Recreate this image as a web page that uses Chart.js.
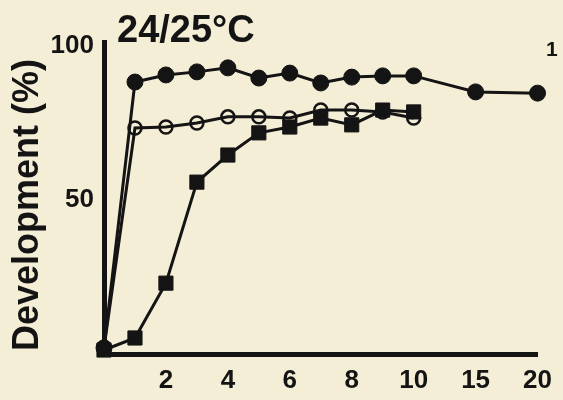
<!DOCTYPE html>
<html><head><meta charset="utf-8">
<script src="https://cdn.jsdelivr.net/npm/chart.js@4/dist/chart.umd.min.js"></script>
<style>html,body{margin:0;padding:0;background:#f5eed6;}#wrap{width:563px;height:400px;}</style>
</head><body><div id="wrap"><canvas id="c" width="563" height="400"></canvas></div>
<script>
const chartTitle = '24/25°C';
const yAxisTitle = 'Development (%)';
const panelLabel = '1';

const daysFilled = [0, 1, 2, 3, 4, 5, 6, 7, 8, 9, 10, 15, 20];
const filledCircles = [2, 88.3, 90.6, 91.6, 92.9, 89.6, 91.2, 88, 89.9, 90.3, 90.3, 85.1, 84.7];

const daysOpen = [0, 1, 2, 3, 4, 5, 6, 7, 8, 9, 10];
const openCircles = [2, 73.4, 73.7, 75, 77, 77, 76.6, 79.2, 79.2, 78.6, 76.6];

const daysSquares = [0, 1, 2, 3, 4, 5, 6, 7, 8, 9, 10];
const squares = [1.3, 5.2, 23, 55.8, 64.6, 71.8, 73.7, 76.6, 74.4, 79.2, 78.6];

const xTickDays = [2, 4, 6, 8, 10, 15, 20];
const yTickValues = [50, 100];

const BG = '#f5eed6';
const INK = '#141414';
const FONT = '"Liberation Sans", Arial, sans-serif';

// broken x axis: days beyond 10 are compressed (5 days take the room of 2)
function axisPos(d) { return d <= 10 ? d : 10 + (d - 10) * 0.4; }
function toPoints(days, vals) { return days.map((d, i) => ({ x: axisPos(d), y: vals[i] })); }

const decor = {
  id: 'decor',
  beforeDraw(chart) {
    const ctx = chart.ctx;
    ctx.save();
    ctx.fillStyle = BG;
    ctx.fillRect(0, 0, chart.width, chart.height);
    ctx.restore();
  },
  afterDraw(chart) {
    const ctx = chart.ctx, a = chart.chartArea;
    ctx.save();
    ctx.fillStyle = INK;
    ctx.textBaseline = 'alphabetic';
    ctx.textAlign = 'left';
    ctx.font = 'bold 38px ' + FONT;
    ctx.fillText(chartTitle, a.left + 13, 42);
    ctx.font = 'bold 21px ' + FONT;
    ctx.textBaseline = 'middle';
    ctx.fillText(panelLabel, 546, 50);
    // rotated y-axis title
    ctx.translate(28, (a.top + a.bottom) / 2 + 7);
    ctx.rotate(-Math.PI / 2);
    ctx.textAlign = 'center';
    ctx.textBaseline = 'middle';
    ctx.font = 'bold 36px ' + FONT;
    ctx.fillText(yAxisTitle, 0, 0);
    ctx.restore();
  }
};

const tickFont = { family: FONT, size: 26, weight: 'bold' };

new Chart(document.getElementById('c'), {
  type: 'line',
  data: {
    datasets: [
      {
        label: 'open circles',
        data: toPoints(daysOpen, openCircles),
        borderColor: INK, borderWidth: 3,
        pointStyle: 'circle', pointRadius: 6.5,
        pointBackgroundColor: 'rgba(0,0,0,0)', pointBorderColor: INK, pointBorderWidth: 2.5,
        clip: false, tension: 0
      },
      {
        label: 'squares',
        data: toPoints(daysSquares, squares),
        borderColor: INK, borderWidth: 3,
        pointStyle: 'rect', pointRadius: 10,
        pointBackgroundColor: INK, pointBorderColor: INK, pointBorderWidth: 1,
        clip: false, tension: 0
      },
      {
        label: 'filled circles',
        data: toPoints(daysFilled, filledCircles),
        borderColor: INK, borderWidth: 3,
        pointStyle: 'circle', pointRadius: 8,
        pointBackgroundColor: INK, pointBorderColor: INK, pointBorderWidth: 1,
        clip: false, tension: 0
      }
    ]
  },
  options: {
    responsive: false,
    animation: false,
    layout: { padding: { top: 42, right: 22, left: 0, bottom: 0 } },
    plugins: { legend: { display: false }, tooltip: { enabled: false }, title: { display: false } },
    scales: {
      x: {
        type: 'linear', min: 0, max: 14,
        grid: { display: false, drawTicks: false },
        border: { display: true, color: INK, width: 5 },
        afterFit(s) { s.height = 46; },
        afterBuildTicks(s) { s.ticks = xTickDays.map(d => ({ value: axisPos(d) })); },
        ticks: {
          color: INK, font: tickFont, padding: 11, maxRotation: 0, autoSkip: false,
          callback: (v, i) => String(xTickDays[i])
        }
      },
      y: {
        type: 'linear', min: 0, max: 101.3,
        grid: { display: false, drawTicks: false },
        border: { display: true, color: INK, width: 5 },
        afterFit(s) { s.width = 104; },
        afterBuildTicks(s) { s.ticks = yTickValues.map(v => ({ value: v })); },
        ticks: { color: INK, font: tickFont, padding: 10, callback: v => String(v) }
      }
    }
  },
  plugins: [decor]
});
</script>
</body></html>
